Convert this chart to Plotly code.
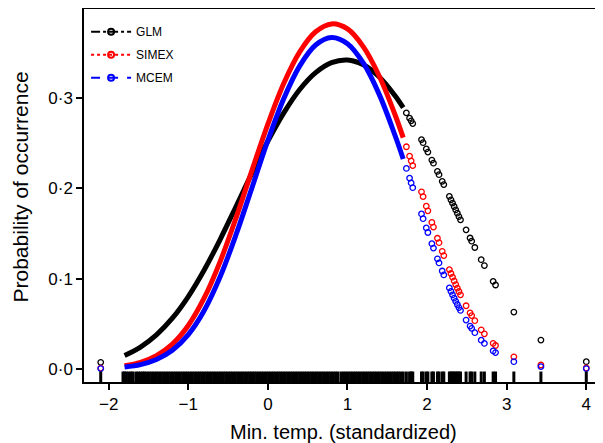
import plotly.graph_objects as go

# ---- data ----
x_dense = [-1.8, -1.6, -1.4, -1.2, -1.0, -0.8, -0.6, -0.4, -0.2, 0.0,
           0.2, 0.4, 0.6, 0.8, 1.0, 1.2, 1.4, 1.6, 1.7]
glm_dense = [0.0150, 0.0243, 0.0378, 0.0562, 0.0802, 0.1096, 0.1433, 0.1799, 0.2169, 0.2522,
             0.2835, 0.3094, 0.3281, 0.3392, 0.3421, 0.3367, 0.3232, 0.3022, 0.2893]
simex_dense = [0.0035, 0.0074, 0.0148, 0.0276, 0.0482, 0.0786, 0.1189, 0.1673, 0.2199, 0.2711,
               0.3163, 0.3511, 0.3733, 0.3820, 0.3764, 0.3566, 0.3241, 0.2809, 0.2561]
mcem_dense = [0.0022, 0.0049, 0.0105, 0.0207, 0.0380, 0.0647, 0.1020, 0.1487, 0.2007, 0.2530,
              0.2994, 0.3356, 0.3587, 0.3670, 0.3601, 0.3385, 0.3037, 0.2579, 0.2325]

x_tail = [-2.10, 1.74, 1.78, 1.80, 1.82, 1.93, 1.95, 1.99, 2.01, 2.06, 2.08, 2.13, 2.15,
          2.19, 2.21, 2.28, 2.30, 2.32, 2.34, 2.36, 2.38, 2.40, 2.42, 2.49, 2.54, 2.56,
          2.60, 2.68, 2.72, 2.83, 2.86, 3.09, 3.43, 4.00]
glm_tail = [0.0074, 0.2835, 0.2777, 0.2747, 0.2717, 0.2539, 0.2505, 0.2436, 0.2401, 0.2313,
            0.2278, 0.2187, 0.2151, 0.2077, 0.2041, 0.1911, 0.1873, 0.1836, 0.1799, 0.1761,
            0.1725, 0.1687, 0.1651, 0.1540, 0.1450, 0.1415, 0.1345, 0.1210, 0.1145, 0.0970,
            0.0930, 0.0630, 0.0320, 0.0081]
simex_tail = [0.0010, 0.2460, 0.2356, 0.2304, 0.2251, 0.1961, 0.1908, 0.1802, 0.1751, 0.1622,
              0.1571, 0.1447, 0.1398, 0.1303, 0.1256, 0.1100, 0.1057, 0.1016, 0.0975, 0.0935,
              0.0895, 0.0858, 0.0821, 0.0700, 0.0621, 0.0591, 0.0535, 0.0434, 0.0389, 0.0284,
              0.0260, 0.0135, 0.0044, 0.0012]
mcem_tail = [0.0005, 0.2220, 0.2113, 0.2060, 0.2007, 0.1716, 0.1664, 0.1562, 0.1511, 0.1387,
             0.1338, 0.1220, 0.1174, 0.1085, 0.1041, 0.0897, 0.0859, 0.0820, 0.0784, 0.0748,
             0.0714, 0.0680, 0.0648, 0.0542, 0.0475, 0.0450, 0.0402, 0.0319, 0.0283, 0.0200,
             0.0182, 0.0081, 0.0026, 0.0005]

rug_x = [-2.10, -1.82, -1.80, -1.78, -1.75, -1.72, -1.70, -1.66, -1.63, -1.60, -1.57, -1.55,
         -1.52, -1.49, -1.46, -1.43, -1.40, -1.37, -1.34, -1.31, -1.28, -1.25, -1.22, -1.19,
         -1.16, -1.13, -1.10, -1.07, -1.04, -1.01, -0.98, -0.95, -0.92, -0.89, -0.86, -0.83,
         -0.80, -0.77, -0.74, -0.71, -0.68, -0.65, -0.62, -0.59, -0.56, -0.53, -0.50, -0.47,
         -0.44, -0.41, -0.38, -0.35, -0.32, -0.29, -0.26, -0.23, -0.20, -0.17, -0.14, -0.11,
         -0.08, -0.05, -0.02, 0.01, 0.04, 0.07, 0.10, 0.13, 0.16, 0.19, 0.22, 0.25, 0.28,
         0.31, 0.34, 0.37, 0.40, 0.43, 0.46, 0.49, 0.52, 0.55, 0.58, 0.61, 0.64, 0.67, 0.70,
         0.73, 0.76, 0.79, 0.82, 0.85, 0.88, 0.92, 0.95, 0.98, 1.01, 1.04, 1.07, 1.10, 1.13,
         1.16, 1.19, 1.22, 1.25, 1.28, 1.31, 1.34, 1.37, 1.40, 1.43, 1.46, 1.49, 1.52, 1.55,
         1.58, 1.61, 1.64, 1.67, 1.70, 1.74, 1.78, 1.80, 1.82, 1.93, 1.95, 1.99, 2.01, 2.06,
         2.08, 2.13, 2.15, 2.19, 2.21, 2.28, 2.30, 2.32, 2.34, 2.36, 2.38, 2.40, 2.42, 2.49,
         2.54, 2.56, 2.60, 2.68, 2.72, 2.83, 2.86, 3.09, 3.43, 4.00]

series_names = ["GLM", "SIMEX", "MCEM"]
series_colors = ["#000000", "#FF0000", "#0000FF"]
series_dash = ["dashdot", "dot", "dash"]

x_ticks = [-2, -1, 0, 1, 2, 3, 4]
x_ticktext = ["\u22122", "\u22121", "0", "1", "2", "3", "4"]
y_ticks = [0.0, 0.1, 0.2, 0.3]
y_ticktext = ["0\u00b70", "0\u00b71", "0\u00b72", "0\u00b73"]

X_RANGE = [-2.31, 4.21]
Y_RANGE = [-0.0144, 0.3985]
RUG_TOP = -0.0028
FONT = "Liberation Sans, Arial, sans-serif"

fig = go.Figure()

dense = [glm_dense, simex_dense, mcem_dense]
tail = [glm_tail, simex_tail, mcem_tail]
for name, col, yd, yt in zip(series_names, series_colors, dense, tail):
    fig.add_trace(go.Scatter(x=x_dense, y=yd, mode="lines",
                             line=dict(color=col, width=5, shape="spline"),
                             showlegend=False, hoverinfo="skip"))
    fig.add_trace(go.Scatter(x=x_tail, y=yt, mode="markers",
                             marker=dict(symbol="circle-open", size=5.5, color=col,
                                         line=dict(width=1.3, color=col)),
                             showlegend=False))

# rug: one tick per observation
rx, ry = [], []
for v in rug_x:
    rx += [v, v, None]
    ry += [Y_RANGE[0], RUG_TOP, None]
fig.add_trace(go.Scatter(x=rx, y=ry, mode="lines", line=dict(color="black", width=3),
                         showlegend=False, hoverinfo="skip"))

# legend entries
for i, (name, col, dash) in enumerate(zip(series_names, series_colors, series_dash)):
    fig.add_trace(go.Scatter(x=[None], y=[None], mode="lines+markers", name=name,
                             legendgroup=name,
                             line=dict(color=col, width=2, dash=dash),
                             marker=dict(symbol="circle-open", size=6, color=col,
                                         line=dict(width=2, color=col))))

# the page body has an 8px margin, so the margins below are offset by 8px
fig.update_layout(
    width=603, height=443,
    margin=dict(l=76, r=8, t=1, b=69),
    paper_bgcolor="white", plot_bgcolor="white",
    font=dict(family=FONT, color="black"),
    legend=dict(x=0.004, y=0.978, xanchor="left", yanchor="top",
                font=dict(size=12, family=FONT), bgcolor="rgba(0,0,0,0)",
                tracegroupgap=4, itemwidth=40),
    xaxis=dict(range=X_RANGE, tickvals=x_ticks, ticktext=x_ticktext, automargin=False,
               showgrid=False, zeroline=False, showline=True, linecolor="black",
               linewidth=1.5, mirror=True, ticks="outside", ticklen=6, tickwidth=1.5,
               tickcolor="black", tickfont=dict(size=17)),
    yaxis=dict(range=Y_RANGE, tickvals=y_ticks, ticktext=y_ticktext, automargin=False,
               showgrid=False, zeroline=False, showline=True, linecolor="black",
               linewidth=1.5, mirror=False, ticks="outside", ticklen=6, tickwidth=1.5,
               tickcolor="black", tickfont=dict(size=17)),
    annotations=[
        dict(text="Min. temp. (standardized)", xref="paper", yref="paper", x=0.5, y=0,
             xanchor="center", yanchor="top", yshift=-37, showarrow=False,
             font=dict(size=20, family=FONT)),
        dict(text="Probability of occurrence", xref="paper", yref="paper", x=0, y=0.5,
             xanchor="center", yanchor="middle", xshift=-64, yshift=8, textangle=-90,
             showarrow=False, font=dict(size=21, family=FONT)),
    ],
)

fig.write_html("out.html")
